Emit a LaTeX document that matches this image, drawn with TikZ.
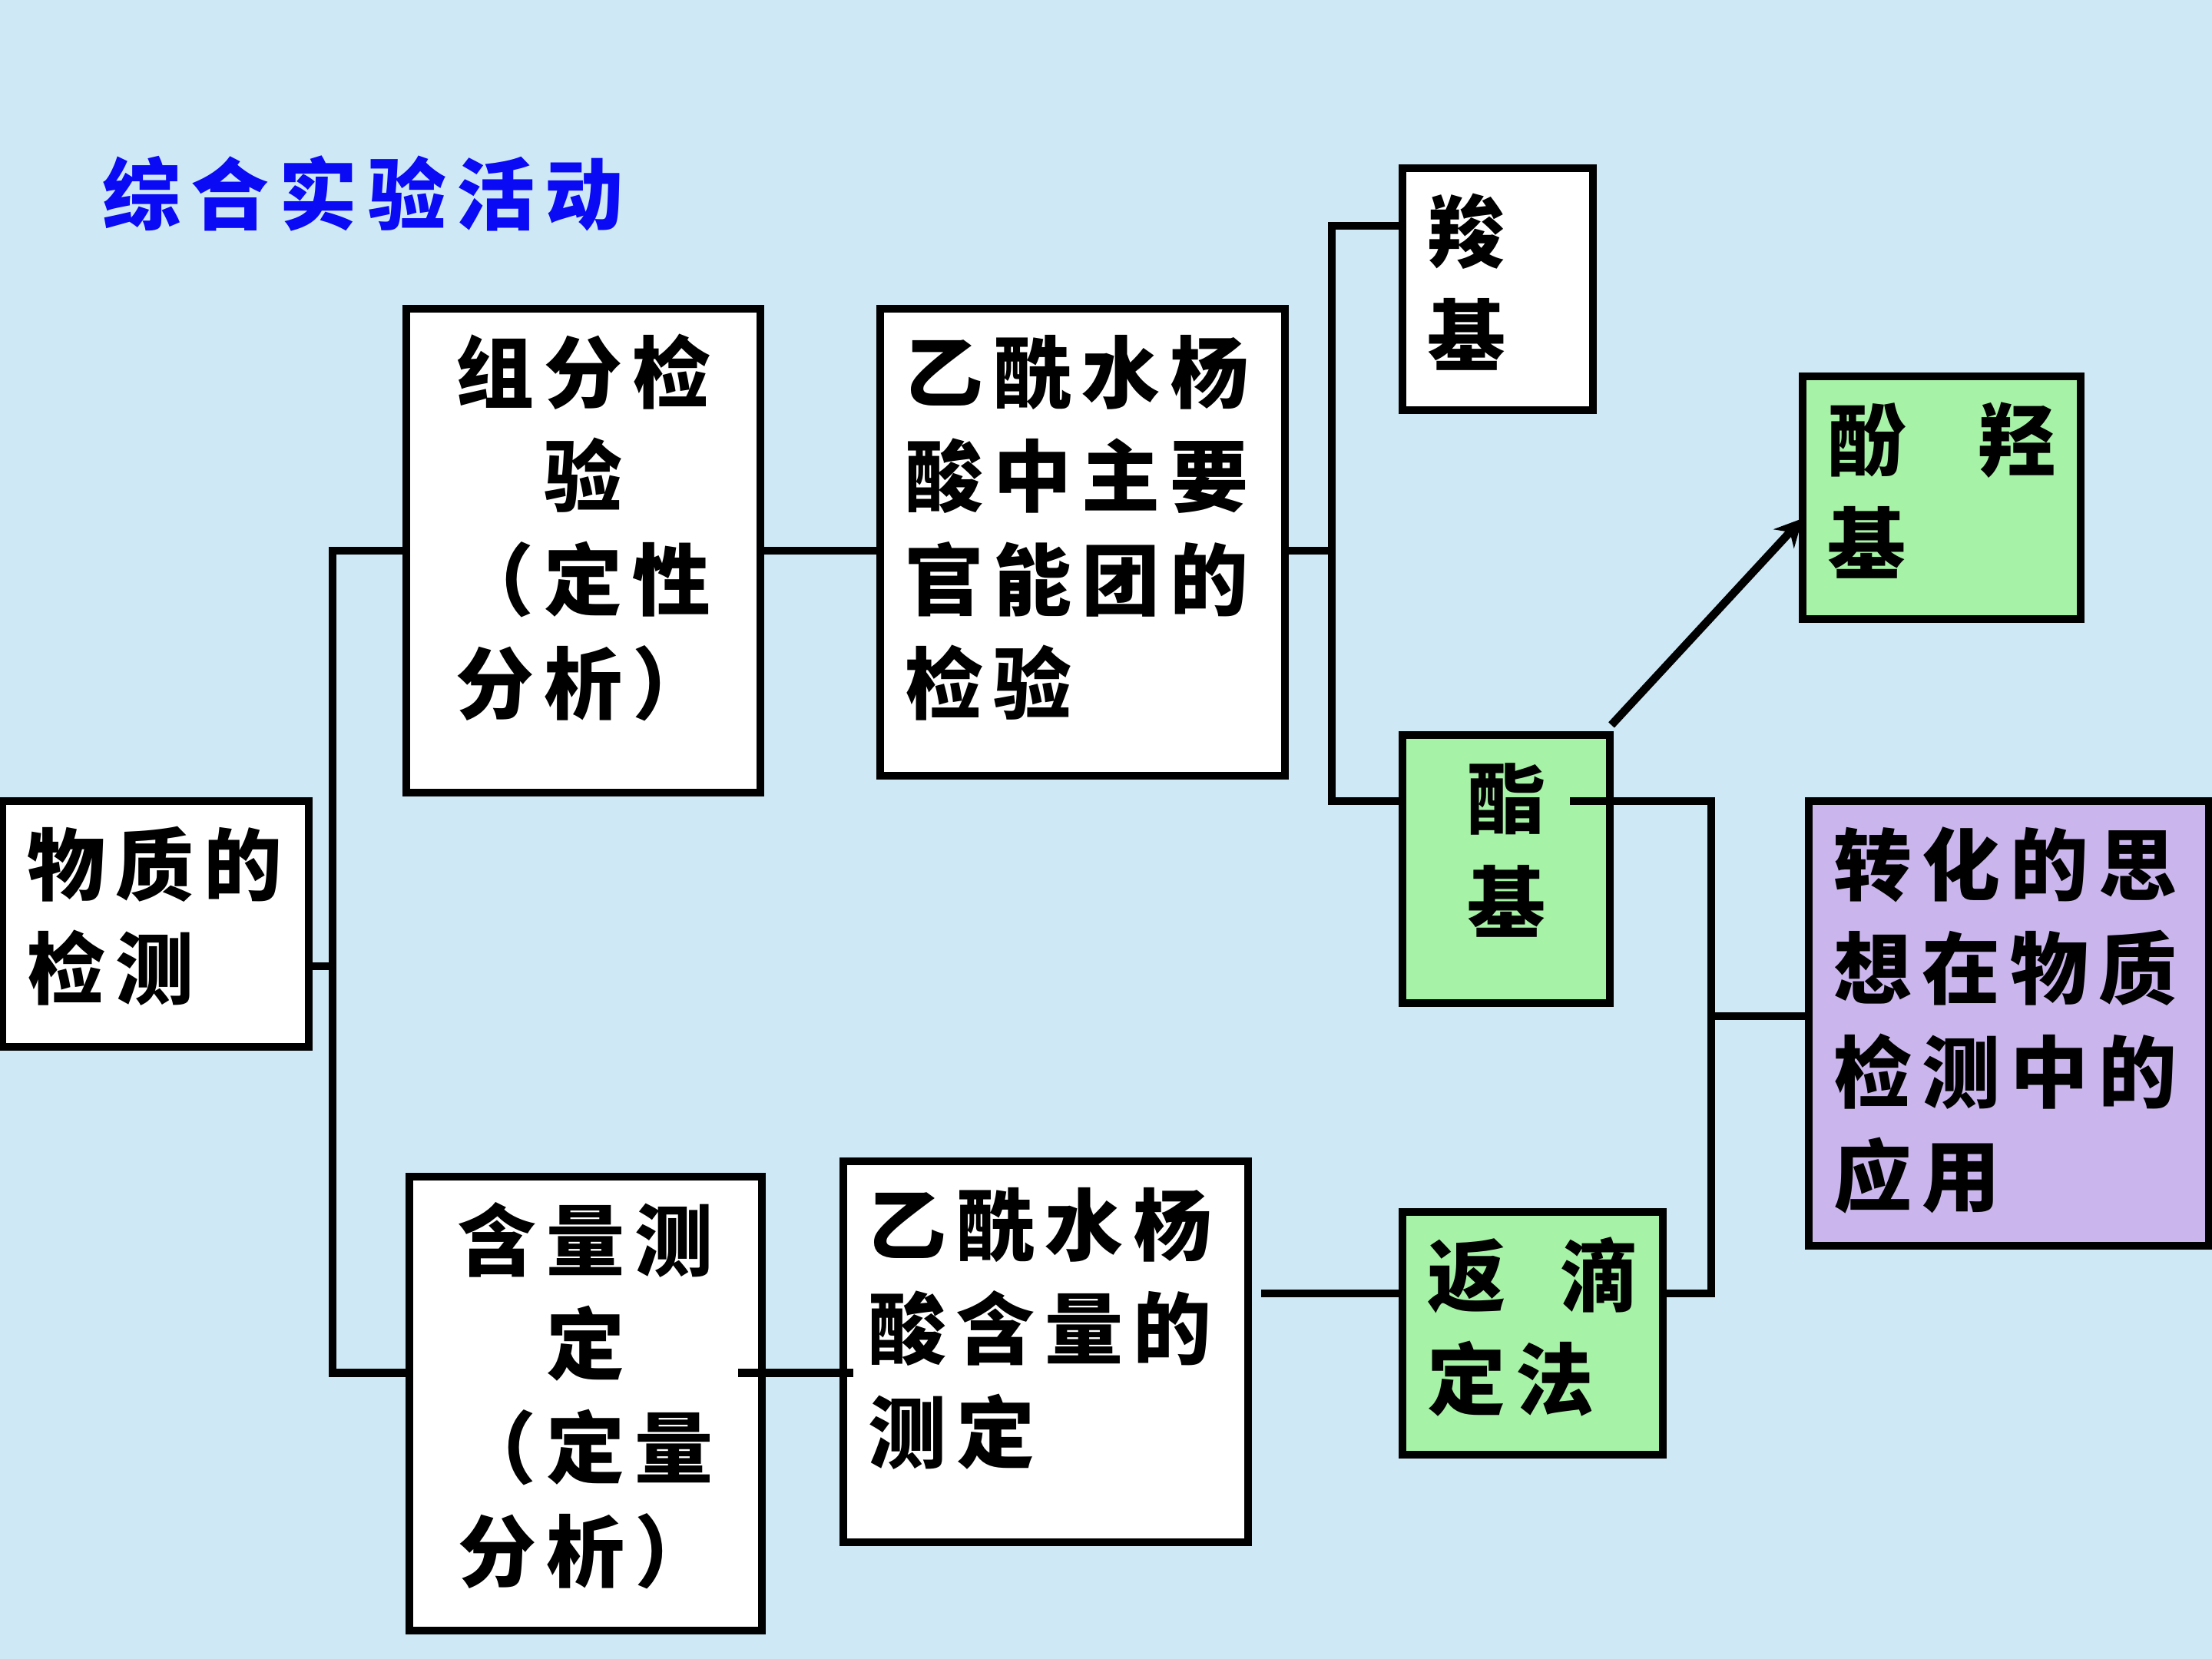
\documentclass[tikz,border=0pt]{standalone}
\usepackage{fontspec}
\newfontfamily\cjk[LetterSpace=13]{Noto Sans CJK SC}
\usepackage{tikz}
\usetikzlibrary{arrows.meta}
\definecolor{bgblue}{RGB}{206,233,245}
\definecolor{leafgreen}{RGB}{166,242,166}
\definecolor{ideapurple}{RGB}{202,182,236}
\definecolor{titleblue}{RGB}{10,10,245}
% text block pinned to the top of a box
\newcommand{\boxtext}[4]{\parbox[t][#2][t]{#1}{#3\strut#4}}
\tikzset{
  text box/.style={draw,line width=3pt,fill=white,anchor=north west,outer sep=0pt,
    inner xsep=0.32cm,inner ysep=0.275cm,
    font=\cjk\bfseries\fontsize{29pt}{38.4pt}\selectfont},
  leaf box/.style={text box,fill=leafgreen},
  link/.style={line width=3pt}
}

\begin{document}
\begin{tikzpicture}[>={Stealth[length=0.36cm,width=0.36cm]}]
    \fill[bgblue] (0,0) rectangle (28.8,21.6);
    \useasboundingbox (0,0) rectangle (28.8,21.6);

    \node[anchor=west,inner sep=0pt,text=titleblue,
          font=\cjk\bfseries\fontsize{29pt}{38.4pt}\selectfont] (title) at (1.33,19.08) {综合实验活动};

    \node[text box,minimum width=3.99cm,minimum height=3.2cm] (wuzhi) at (0.03,11.17)
      {\boxtext{3.35cm}{2.65cm}{\raggedright}{物质的\\检测}};
    \node[text box,minimum width=4.61cm,minimum height=6.3cm] (zufen) at (5.29,17.58)
      {\boxtext{3.97cm}{5.75cm}{\centering}{组分检\\验\\（定性\\分析）}};
    \node[text box,minimum width=5.27cm,minimum height=6.08cm] (group) at (11.46,17.58)
      {\boxtext{4.63cm}{5.53cm}{\raggedright}{乙酰水杨\\酸中主要\\官能团的\\检验}};
    \node[text box,minimum width=2.48cm,minimum height=3.15cm] (carboxyl) at (18.26,19.41)
      {\boxtext{1.84cm}{2.6cm}{\raggedright}{羧\\基}};
    \node[leaf box,minimum width=3.62cm,minimum height=3.16cm] (phenol) at (23.47,16.70)
      {\boxtext{2.98cm}{2.61cm}{\raggedright}{酚\hspace{0pt plus 1filll}羟\\基}};
    \node[leaf box,minimum width=2.7cm,minimum height=3.49cm] (ester) at (18.26,12.03)
      {\boxtext{2.06cm}{2.94cm}{\centering}{酯\\基}};
    \node[text box,fill=ideapurple,minimum width=5.21cm,minimum height=5.79cm] (idea) at (23.55,11.17)
      {\boxtext{4.57cm}{5.24cm}{\raggedright}{转化的思\\想在物质\\检测中的\\应用}};
    \node[text box,minimum width=4.59cm,minimum height=5.91cm] (qty) at (5.33,6.28)
      {\boxtext{3.95cm}{5.36cm}{\centering}{含量测\\定\\（定量\\分析）}};
    \node[text box,minimum width=5.27cm,minimum height=4.96cm] (assay) at (10.98,6.48)
      {\boxtext{4.63cm}{4.41cm}{\raggedright}{乙酰水杨\\酸含量的\\测定}};
    \node[leaf box,minimum width=3.39cm,minimum height=3.16cm] (back) at (18.26,5.82)
      {\boxtext{2.75cm}{2.61cm}{\raggedright}{返\hspace{0pt plus 1filll}滴\\定法}};

    % junctions
    \coordinate (j1) at (4.33,9.02);
    \coordinate (j2) at ([xshift=7.44cm]zufen.east);
    \coordinate (j3) at (22.28,8.37);
    \coordinate (q1) at ([yshift=0.4cm]qty.east);
    \coordinate (b1) at ([yshift=0.52cm]back.east);

    \draw[link] (j1 -| wuzhi.east) -- (j1);
    \draw[link] (zufen.west) -| (j1) |- (q1 -| qty.west);
    \draw[link] (zufen.east) -- (zufen.east -| group.west);
    \draw[link] (zufen.east -| group.east) -- (j2);
    \draw[link] ([yshift=-0.75cm]carboxyl.north west) -| (j2) |- ([yshift=-0.86cm]ester.north west);
    \draw[link] ([shift={(-0.52,-0.86)}]ester.north east) -| (j3) |- (b1);
    \draw[link] (j3) -- (j3 -| idea.west);
    \draw[link,shorten <=-0.31cm,shorten >=-0.13cm] (q1) -- (q1 -| assay.west);
    \draw[link,shorten <=0.17cm] (b1 -| assay.east) -- (b1 -| back.west);
    \draw[link,->] ([shift={(0.02,0.13)}]ester.north east) -- ([yshift=-0.27cm]phenol.west);
\end{tikzpicture}
\end{document}
